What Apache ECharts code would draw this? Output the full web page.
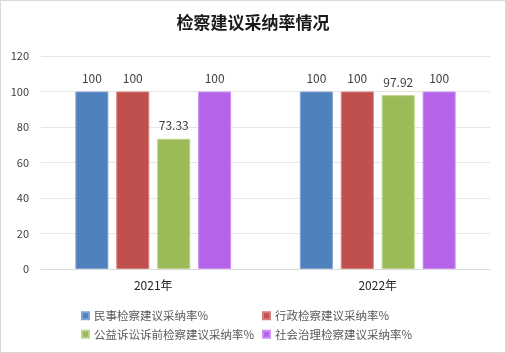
<!DOCTYPE html>
<html>
<head>
<meta charset="utf-8">
<script src="https://cdn.jsdelivr.net/npm/echarts@6/dist/echarts.min.js"></script>
<style>
  html, body { margin: 0; padding: 0; background: #fff; }
  #chart { width: 504px; height: 351px; border: 1px solid #d9d9d9; }
</style>
</head>
<body>
<div id="chart"></div>
<script>
// 数据
var categories = ["2021年", "2022年"];
var seriesNames = ["民事检察建议采纳率%", "行政检察建议采纳率%", "公益诉讼诉前检察建议采纳率%", "社会治理检察建议采纳率%"];
var minshi = [100, 100];
var xingzheng = [100, 100];
var gongyi = [73.33, 97.92];
var shehui = [100, 100];
var colors = ["#4F81BD", "#C0504D", "#9BBB59", "#B564EA"];
var borders = ["#7FA3D3", "#D77E7B", "#BCD48A", "#CB8FF2"];

var myChart = echarts.init(document.getElementById("chart"));
var allData = [minshi, xingzheng, gongyi, shehui];

var series = allData.map(function(d, i) {
  return {
    name: seriesNames[i],
    type: "bar",
    data: d,
    barWidth: 33,
    barGap: "24%",
    itemStyle: { color: colors[i], borderColor: borders[i], borderWidth: 1 },
    label: {
      show: true,
      position: "top",
      distance: 7,
      color: "#404040",
      fontSize: 12,
      fontFamily: "Noto Sans CJK SC"
    }
  };
});

var legendText = { color: "#595959", fontSize: 11.5, fontFamily: "Noto Sans CJK SC" };

var option = {
  color: colors,
  title: {
    text: "检察建议采纳率情况",
    left: "center",
    top: 8,
    textStyle: { fontSize: 17, fontWeight: "bold", color: "#1a1a1a", fontFamily: "Noto Sans CJK SC" }
  },
  grid: { left: 40, right: 15, top: 55, bottom: 83 },
  legend: [
    {
      data: [seriesNames[0], seriesNames[2]],
      orient: "vertical",
      left: 75,
      top: 304,
      itemWidth: 7,
      itemHeight: 7,
      itemGap: 7,
      icon: "rect",
      textStyle: legendText
    },
    {
      data: [seriesNames[1], seriesNames[3]],
      orient: "vertical",
      left: 256,
      top: 304,
      itemWidth: 7,
      itemHeight: 7,
      itemGap: 7,
      icon: "rect",
      textStyle: legendText
    }
  ],
  xAxis: {
    type: "category",
    data: categories,
    axisTick: { show: false },
    axisLine: { lineStyle: { color: "#d9d9d9" } },
    axisLabel: { color: "#262626", fontSize: 12, margin: 10, fontFamily: "Noto Sans CJK SC" }
  },
  yAxis: {
    type: "value",
    min: 0,
    max: 120,
    interval: 20,
    axisLine: { show: false },
    axisTick: { show: false },
    axisLabel: { color: "#404040", fontSize: 11, margin: 12, fontFamily: "Noto Sans CJK SC" },
    splitLine: { lineStyle: { color: "#e6e6e6" } }
  },
  series: series
};

myChart.setOption(option);
</script>
</body>
</html>
